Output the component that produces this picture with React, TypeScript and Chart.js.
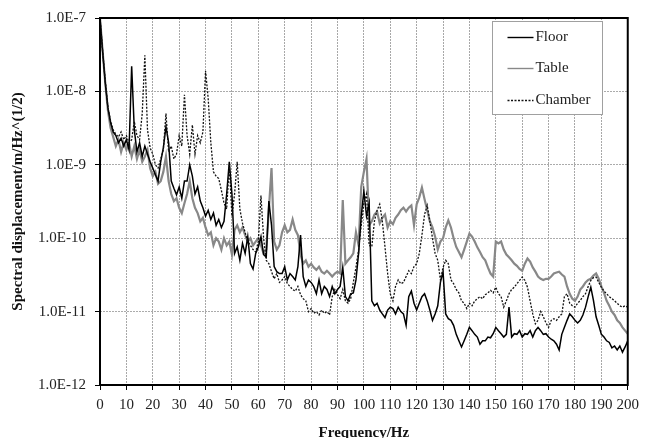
import React, { useEffect, useRef } from "react";
import { Chart, registerables } from "chart.js";
Chart.register(...registerables);

// Frequency grid, Hz (0..200, 1 Hz steps)
const frequencies: number[] = Array.from({ length: 201 }, (_, i) => i);

const floorValues: number[] = [
  1e-7, 3.5e-8, 1.3e-8, 6e-9, 3.8e-9, 2.8e-9, 2.5e-9, 2e-9, 2.3e-9, 1.8e-9,
  2.2e-9, 1.6e-9, 2.2e-8, 3e-9, 1.5e-9, 2e-9, 1.3e-9, 1.8e-9, 1.4e-9, 1.1e-9,
  9e-10, 7.3e-10, 6e-10, 1.1e-9, 1.7e-9, 3.3e-9, 2e-9, 6e-10, 4.8e-10, 3.9e-10,
  5e-10, 3.5e-10, 6e-10, 6e-10, 1e-9, 7e-10, 4e-10, 5e-10, 3.2e-10, 2.6e-10,
  2e-10, 2.4e-10, 1.8e-10, 2.2e-10, 1.5e-10, 1.8e-10, 1.4e-10, 1.7e-10, 4e-10, 1.1e-9,
  4e-10, 6.2e-11, 7.6e-11, 5e-11, 8.5e-11, 6.2e-11, 1.05e-10, 4.5e-11, 3.8e-11, 6.2e-11,
  7.6e-11, 1.05e-10, 6e-11, 5.5e-11, 3.2e-10, 1.5e-10, 4.1e-11, 3.5e-11, 3.3e-11, 3.3e-11,
  4.1e-11, 2.7e-11, 3.3e-11, 3e-11, 2.7e-11, 4.1e-11, 1.1e-10, 3e-11, 2.2e-11, 2.7e-11,
  2.5e-11, 2.2e-11, 1.75e-11, 2.7e-11, 1.75e-11, 2.2e-11, 2e-11, 1.6e-11, 2.2e-11, 1.75e-11,
  2e-11, 2.2e-11, 4e-11, 1.6e-11, 1.4e-11, 1.75e-11, 1.8e-11, 2.7e-11, 6.2e-11, 2e-10,
  4.4e-10, 2e-10, 3e-10, 1.4e-11, 1.2e-11, 1.3e-11, 1.05e-11, 9.3e-12, 8.3e-12, 1.05e-11,
  1.15e-11, 1.1e-11, 9.3e-12, 1.15e-11, 1e-11, 9.3e-12, 6.5e-12, 1.6e-11, 1.9e-11, 1.3e-11,
  1.05e-11, 1.3e-11, 1.6e-11, 1.75e-11, 1.4e-11, 1.05e-11, 7.6e-12, 9.3e-12, 1.2e-11, 2.5e-11,
  3.5e-11, 9.3e-12, 8e-12, 7.6e-12, 6.5e-12, 4.9e-12, 4e-12, 3.3e-12, 4e-12, 4.9e-12,
  6.1e-12, 5.5e-12, 4.9e-12, 4.5e-12, 3.6e-12, 4e-12, 4e-12, 4.5e-12, 4.4e-12, 5e-12,
  6.1e-12, 5.5e-12, 5e-12, 4.5e-12, 4.9e-12, 1.15e-11, 4.5e-12, 5e-12, 4.9e-12, 5.5e-12,
  4.5e-12, 5e-12, 4.9e-12, 5.5e-12, 4.5e-12, 5.5e-12, 6.1e-12, 5.5e-12, 4.9e-12, 5e-12,
  4.5e-12, 4.2e-12, 4e-12, 3.6e-12, 3e-12, 4.9e-12, 6.1e-12, 7.6e-12, 9.3e-12, 8.5e-12,
  7.6e-12, 7e-12, 7.6e-12, 9e-12, 1.15e-11, 1.6e-11, 2.15e-11, 1.42e-11, 8.5e-12, 6.5e-12,
  4.9e-12, 4.5e-12, 4e-12, 3.8e-12, 3.2e-12, 3.4e-12, 3e-12, 3.4e-12, 2.8e-12, 3.3e-12,
  4e-12,
];

const tableValues: number[] = [
  1e-7, 3.5e-8, 1.3e-8, 5.5e-9, 3.2e-9, 2.4e-9, 1.8e-9, 2.2e-9, 1.5e-9, 2e-9,
  1.6e-9, 2e-9, 1.3e-9, 1.8e-9, 1.2e-9, 1.6e-9, 1.1e-9, 1.3e-9, 1.6e-9, 9e-10,
  7e-10, 8e-10, 5.5e-10, 6e-10, 8e-10, 1.3e-9, 6e-10, 4e-10, 3.2e-10, 3.5e-10,
  2.6e-10, 2.2e-10, 3e-10, 4e-10, 6e-10, 3.5e-10, 2.6e-10, 2.2e-10, 1.7e-10, 1.9e-10,
  1.4e-10, 1.1e-10, 1.2e-10, 8e-11, 1e-10, 9e-11, 7e-11, 1e-10, 8e-11, 9e-11,
  6e-11, 1.3e-10, 1.5e-10, 1.2e-10, 1.4e-10, 1.1e-10, 9e-11, 1e-10, 8e-11, 9e-11,
  1e-10, 8e-11, 6.2e-11, 7e-11, 2.5e-10, 9e-10, 9e-11, 7e-11, 8e-11, 1.2e-10,
  1.5e-10, 1.2e-10, 1.3e-10, 1.8e-10, 1.3e-10, 1.1e-10, 6e-11, 4.5e-11, 5e-11, 4.1e-11,
  4.5e-11, 4e-11, 3.7e-11, 4.1e-11, 3.5e-11, 3.3e-11, 3.6e-11, 3.3e-11, 3e-11, 3.3e-11,
  3.5e-11, 3.3e-11, 3.3e-10, 4.5e-11, 5e-11, 5.5e-11, 6.2e-11, 1.2e-10, 8e-11, 5e-10,
  8e-10, 1.2e-9, 1.5e-10, 1.7e-10, 2.1e-10, 2.3e-10, 1.6e-10, 1.9e-10, 2.1e-10, 1.4e-10,
  1.7e-10, 1.55e-10, 1.9e-10, 2.1e-10, 2.4e-10, 2.6e-10, 2.3e-10, 2.6e-10, 2.8e-10, 1.5e-10,
  2.9e-10, 3.6e-10, 4.9e-10, 3.4e-10, 2.4e-10, 1.7e-10, 1.4e-10, 1.05e-10, 7e-11, 9e-11,
  1e-10, 1.4e-10, 1.75e-10, 1.4e-10, 1e-10, 7.6e-11, 6.5e-11, 5.5e-11, 7e-11, 9e-11,
  1.15e-10, 1.05e-10, 9e-11, 7.5e-11, 6.5e-11, 5.5e-11, 5e-11, 4e-11, 3.3e-11, 3e-11,
  9e-11, 8.5e-11, 9e-11, 7e-11, 6e-11, 5.5e-11, 5e-11, 4.5e-11, 4.2e-11, 3.8e-11,
  3.6e-11, 4.5e-11, 5.3e-11, 4.8e-11, 4e-11, 3.5e-11, 3e-11, 2.8e-11, 2.7e-11, 2.8e-11,
  2.8e-11, 3e-11, 3.3e-11, 3.4e-11, 3.5e-11, 3.2e-11, 3e-11, 2.2e-11, 1.75e-11, 1.5e-11,
  1.4e-11, 1.6e-11, 2e-11, 2.2e-11, 2.5e-11, 2.7e-11, 2.8e-11, 3.1e-11, 3.3e-11, 2.8e-11,
  2.2e-11, 1.8e-11, 1.4e-11, 1.2e-11, 1e-11, 9e-12, 7.6e-12, 7e-12, 6.1e-12, 5.5e-12,
  5e-12,
];

const chamberValues: number[] = [
  1e-7, 3.5e-8, 1.4e-8, 6e-9, 4e-9, 3e-9, 2.6e-9, 2.4e-9, 2.8e-9, 2.2e-9,
  2.5e-9, 2e-9, 2.2e-9, 3.9e-9, 2.5e-9, 2.2e-9, 5e-9, 3.1e-8, 3e-9, 1.7e-9,
  1.4e-9, 1e-9, 9e-10, 1.2e-9, 1.6e-9, 5e-9, 1.5e-9, 1.8e-9, 1.2e-9, 1.4e-9,
  2.5e-9, 1.8e-9, 9e-9, 2.5e-9, 1.4e-9, 3.5e-9, 1.4e-9, 2.5e-9, 2e-9, 2.8e-9,
  1.9e-8, 8e-9, 2e-9, 8e-10, 7e-10, 6.5e-10, 4.5e-10, 3e-10, 2.5e-10, 1e-9,
  2e-10, 4e-10, 1.1e-9, 2.5e-10, 1.6e-10, 1.2e-10, 9e-11, 8e-11, 7e-11, 6.5e-11,
  9e-11, 3.8e-10, 1e-10, 5e-11, 4.5e-11, 3.5e-11, 2.8e-11, 3.3e-11, 2.5e-11, 2.7e-11,
  3e-11, 2.4e-11, 2.2e-11, 2e-11, 1.9e-11, 2.2e-11, 1.7e-11, 1.5e-11, 1.4e-11, 1e-11,
  1.1e-11, 9.5e-12, 1e-11, 9e-12, 1.05e-11, 9.5e-12, 1e-11, 9e-12, 1.6e-11, 2e-11,
  1.7e-11, 1.5e-11, 2e-11, 1.4e-11, 1.3e-11, 1.5e-11, 2.5e-11, 4e-11, 7e-11, 1.5e-10,
  3e-10, 4e-10, 8e-11, 7.6e-11, 1.7e-10, 2.4e-10, 2.9e-10, 1.7e-10, 7.6e-11, 3.3e-11,
  1.75e-11, 1.4e-11, 2.2e-11, 2.7e-11, 2.4e-11, 2.5e-11, 3e-11, 3.6e-11, 3.3e-11, 4.1e-11,
  4.5e-11, 6.2e-11, 1.1e-10, 2.1e-10, 2.8e-10, 1.7e-10, 1e-10, 6.2e-11, 5e-11, 2.7e-11,
  4e-11, 5e-11, 4.5e-11, 2.7e-11, 2.4e-11, 2e-11, 1.8e-11, 1.4e-11, 1.3e-11, 1.1e-11,
  1.3e-11, 1.2e-11, 1.4e-11, 1.5e-11, 1.6e-11, 1.5e-11, 1.7e-11, 1.8e-11, 1.95e-11, 1.8e-11,
  2.15e-11, 1.75e-11, 1.6e-11, 1.15e-11, 1.4e-11, 1.75e-11, 2e-11, 2.15e-11, 2.4e-11, 2.66e-11,
  2.95e-11, 2.66e-11, 2.15e-11, 1.4e-11, 9.3e-12, 6.8e-12, 7.6e-12, 1e-11, 8.5e-12, 7e-12,
  6.1e-12, 7.6e-12, 8e-12, 7.6e-12, 8.5e-12, 9.3e-12, 1.6e-11, 1.75e-11, 1.3e-11, 1.2e-11,
  1.15e-11, 1.3e-11, 1.42e-11, 1.6e-11, 1.75e-11, 2.2e-11, 2.66e-11, 2.9e-11, 2.95e-11, 2.5e-11,
  2.15e-11, 1.9e-11, 1.75e-11, 1.6e-11, 1.5e-11, 1.4e-11, 1.3e-11, 1.2e-11, 1.15e-11, 1.2e-11,
  1.15e-11,
];

const seriesLabels: string[] = ["Floor", "Table", "Chamber"];
const yTickValues: number[] = [1e-12, 1e-11, 1e-10, 1e-9, 1e-8, 1e-7];
const yTickLabels: string[] = ["1.0E-12", "1.0E-11", "1.0E-10", "1.0E-9", "1.0E-8", "1.0E-7"];

const FONT = "'Liberation Serif', 'Times New Roman', serif";

const toXY = (vals: number[]) => frequencies.map((f, i) => ({ x: f, y: vals[i] }));

const frameAndLegend = {
  id: "frameAndLegend",
  afterDatasetsDraw(chart: any) {
    const { ctx, chartArea: a } = chart;
    ctx.save();
    ctx.strokeStyle = "#000";
    ctx.lineWidth = 2;
    ctx.strokeRect(a.left, a.top, a.right - a.left, a.bottom - a.top);

    const bx = Math.round(a.right - 136) + 0.5;
    const by = Math.round(a.top + 3) + 0.5;
    const bw = 110;
    const bh = 93;
    ctx.fillStyle = "#fff";
    ctx.fillRect(bx, by, bw, bh);
    ctx.strokeStyle = "#a0a0a0";
    ctx.lineWidth = 1;
    ctx.strokeRect(bx, by, bw, bh);

    const rows = [16, 47, 79];
    chart.data.datasets.forEach((ds: any, i: number) => {
      const y = by + rows[i];
      ctx.beginPath();
      ctx.strokeStyle = ds.borderColor;
      ctx.lineWidth = Math.min(ds.borderWidth, 1.4);
      ctx.setLineDash(ds.borderDash || []);
      ctx.moveTo(bx + 15, y);
      ctx.lineTo(bx + 41, y);
      ctx.stroke();
      ctx.setLineDash([]);
      ctx.fillStyle = "#222";
      ctx.font = `15px ${FONT}`;
      ctx.textAlign = "left";
      ctx.textBaseline = "middle";
      ctx.fillText(ds.label, bx + 43, y);
    });
    ctx.restore();
  },
};

export default function App() {
  const ref = useRef<HTMLCanvasElement>(null);
  useEffect(() => {
    document.body.style.margin = "0";
    const chart = new Chart(ref.current as HTMLCanvasElement, {
      type: "line",
      data: {
        datasets: [
          {
            label: seriesLabels[0],
            data: toXY(floorValues),
            borderColor: "#000000",
            borderWidth: 1.5,
            pointRadius: 0,
            order: 1,
          },
          {
            label: seriesLabels[1],
            data: toXY(tableValues),
            borderColor: "#888888",
            borderWidth: 2.2,
            pointRadius: 0,
            order: 2,
          },
          {
            label: seriesLabels[2],
            data: toXY(chamberValues),
            borderColor: "#111111",
            borderWidth: 1.3,
            borderDash: [2, 1.5],
            pointRadius: 0,
            order: 0,
          },
        ],
      },
      options: {
        animation: false,
        responsive: false,
        layout: { padding: { top: 16, right: 12, left: 0, bottom: 0 } },
        plugins: { legend: { display: false }, tooltip: { enabled: false } },
        elements: { line: { tension: 0 } },
        scales: {
          x: {
            type: "linear",
            min: 0,
            max: 200,
            ticks: {
              stepSize: 10,
              autoSkip: false,
              maxRotation: 0,
              padding: 6,
              color: "#222",
              font: { family: FONT, size: 15 },
            },
            grid: { color: "#a8a8a8", tickColor: "#000", tickLength: 5 },
            border: { display: false, dash: [2, 1] },
            title: {
              display: true,
              text: "Frequency/Hz",
              color: "#111",
              font: { family: FONT, size: 15, weight: "bold" },
              padding: { top: 0, bottom: -4 },
            },
            afterFit: (s: any) => {
              s.height = 53;
            },
          },
          y: {
            type: "logarithmic",
            min: 1e-12,
            max: 1e-7,
            afterBuildTicks: (s: any) => {
              s.ticks = yTickValues.map((v) => ({ value: v }));
            },
            ticks: {
              autoSkip: false,
              padding: 9,
              color: "#222",
              font: { family: FONT, size: 15 },
              callback: (v: any) => {
                const idx = yTickValues.findIndex(
                  (t) => Math.abs(Math.log10(t) - Math.log10(Number(v))) < 1e-6
                );
                return idx >= 0 ? yTickLabels[idx] : "";
              },
            },
            grid: { color: "#ababab", tickColor: "#000", tickLength: 5 },
            border: { display: false, dash: [2, 1] },
            title: {
              display: true,
              text: "Spectral displacement/m/Hz^(1/2)",
              color: "#111",
              font: { family: FONT, size: 15, weight: "bold" },
              padding: { top: 9, bottom: 0 },
            },
            afterFit: (s: any) => {
              s.width = 100;
            },
          },
        },
      },
      plugins: [frameAndLegend],
    });
    return () => chart.destroy();
  }, []);
  return (
    <div style={{ width: 645, height: 438 }}>
      <canvas ref={ref} width={645} height={438} style={{ width: 645, height: 438 }} />
    </div>
  );
}
